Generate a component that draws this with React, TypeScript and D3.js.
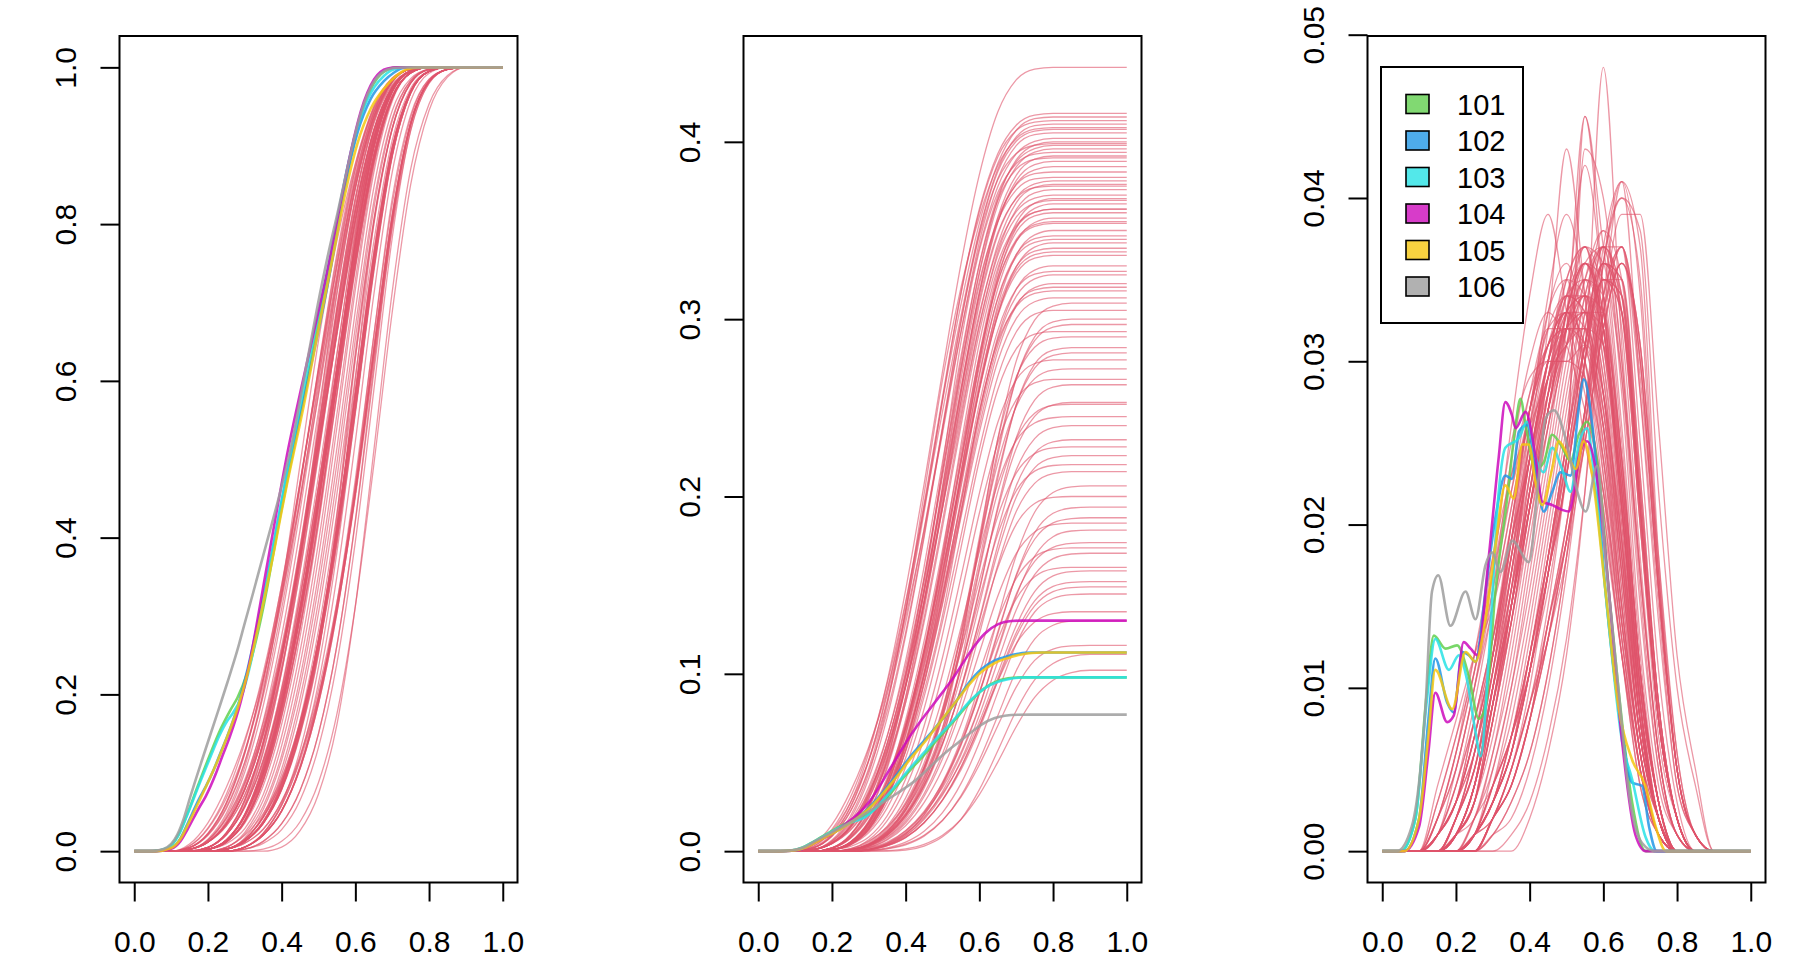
import React, { useEffect, useRef } from "react";
import * as d3 from "d3";

const WIDTH = 1800;
const HEIGHT = 968;
const FONT = "'Liberation Sans', Arial, Helvetica, sans-serif";

// tick labels
const xTicks = [0, 0.2, 0.4, 0.6, 0.8, 1.0];
const cdfTicks = [0, 0.2, 0.4, 0.6, 0.8, 1.0];
const cumTicks = [0, 0.1, 0.2, 0.3, 0.4];
const densTicks = [0, 0.01, 0.02, 0.03, 0.04, 0.05];

// highlighted series
const seriesIds = ["101", "102", "103", "104", "105", "106"];
const seriesColors = ["#61D04F", "#2297E6", "#28E2E5", "#CD0BBC", "#F5C710", "#9E9E9E"];
const seriesTotals = [0.098, 0.112, 0.098, 0.13, 0.112, 0.077];

const seriesDensity: [number, number][][] = [
  // 101
  [[0, 0], [0.05, 0], [0.09, 0.002], [0.12, 0.0095], [0.14, 0.0132], [0.172, 0.0124], [0.203, 0.0126], [0.235, 0.0107], [0.262, 0.0081], [0.28, 0.0088], [0.307, 0.0159], [0.339, 0.0216], [0.362, 0.0261], [0.375, 0.0277], [0.389, 0.0261], [0.416, 0.0234], [0.438, 0.0238], [0.461, 0.0255], [0.484, 0.0249], [0.511, 0.0239], [0.533, 0.0255], [0.556, 0.0263], [0.588, 0.023], [0.615, 0.0159], [0.642, 0.0097], [0.678, 0.003], [0.715, 0], [1, 0]],
  // 102
  [[0, 0], [0.06, 0], [0.1, 0.002], [0.125, 0.008], [0.144, 0.0118], [0.176, 0.0091], [0.194, 0.0085], [0.217, 0.0122], [0.235, 0.012], [0.253, 0.0116], [0.28, 0.0159], [0.307, 0.0204], [0.334, 0.023], [0.352, 0.0228], [0.371, 0.0257], [0.393, 0.0261], [0.416, 0.0234], [0.438, 0.0208], [0.461, 0.022], [0.484, 0.0232], [0.511, 0.023], [0.533, 0.0271], [0.547, 0.0289], [0.57, 0.0261], [0.606, 0.0159], [0.642, 0.0087], [0.678, 0.0042], [0.705, 0.004], [0.724, 0.0015], [0.745, 0], [1, 0]],
  // 103
  [[0, 0], [0.05, 0], [0.09, 0.002], [0.12, 0.009], [0.144, 0.013], [0.181, 0.0111], [0.208, 0.012], [0.23, 0.0105], [0.253, 0.0073], [0.267, 0.0058], [0.289, 0.0118], [0.316, 0.022], [0.334, 0.0247], [0.371, 0.0253], [0.393, 0.0263], [0.416, 0.0241], [0.438, 0.0232], [0.461, 0.0247], [0.488, 0.0234], [0.511, 0.022], [0.533, 0.0249], [0.556, 0.0259], [0.579, 0.022], [0.615, 0.0138], [0.651, 0.0067], [0.678, 0.0044], [0.714, 0.0009], [0.74, 0], [1, 0]],
  // 104
  [[0, 0], [0.06, 0], [0.1, 0.0015], [0.125, 0.006], [0.144, 0.0097], [0.176, 0.0079], [0.194, 0.0083], [0.221, 0.0128], [0.24, 0.0124], [0.258, 0.012], [0.289, 0.018], [0.316, 0.0241], [0.334, 0.0275], [0.352, 0.0267], [0.362, 0.0259], [0.389, 0.0269], [0.416, 0.0241], [0.434, 0.0214], [0.461, 0.0212], [0.488, 0.0209], [0.506, 0.0208], [0.52, 0.022], [0.533, 0.0241], [0.556, 0.0251], [0.588, 0.022], [0.615, 0.0159], [0.651, 0.0067], [0.687, 0.001], [0.715, 0], [1, 0]],
  // 105
  [[0, 0], [0.06, 0], [0.1, 0.002], [0.125, 0.007], [0.144, 0.0111], [0.19, 0.0087], [0.226, 0.0122], [0.253, 0.0116], [0.28, 0.0142], [0.307, 0.0187], [0.334, 0.0224], [0.357, 0.0216], [0.38, 0.0249], [0.398, 0.0249], [0.416, 0.0226], [0.434, 0.0212], [0.461, 0.0234], [0.479, 0.0251], [0.502, 0.0243], [0.525, 0.0234], [0.547, 0.0251], [0.57, 0.023], [0.606, 0.0159], [0.642, 0.0087], [0.678, 0.0056], [0.714, 0.004], [0.742, 0.0015], [0.77, 0], [1, 0]],
  // 106
  [[0, 0], [0.04, 0], [0.08, 0.0015], [0.117, 0.0087], [0.135, 0.0159], [0.152, 0.0169], [0.185, 0.0138], [0.226, 0.0159], [0.253, 0.0142], [0.28, 0.0175], [0.298, 0.0183], [0.321, 0.0171], [0.353, 0.019], [0.398, 0.0177], [0.425, 0.023], [0.443, 0.0265], [0.466, 0.027], [0.497, 0.0253], [0.525, 0.0224], [0.552, 0.0208], [0.583, 0.0236], [0.606, 0.0179], [0.642, 0.0097], [0.669, 0.0036], [0.705, 0.0005], [0.74, 0], [1, 0]],
];

// background series: density (per mille) at these x, zero outside
const backgroundX = [0.15, 0.2, 0.25, 0.3, 0.35, 0.4, 0.45, 0.5, 0.55, 0.6, 0.65, 0.7, 0.75, 0.8, 0.85];
const backgroundDensity = [
  [2, 6, 11, 17, 23, 28, 31, 32, 28, 22, 13, 5, 1, 0, 0],
  [3, 7, 12, 17, 22, 27, 31, 33, 29, 21, 12, 5, 1, 0, 0],
  [2, 5, 10, 16, 24, 30, 33, 31, 27, 22, 14, 6, 1, 0, 0],
  [4, 8, 12, 15, 20, 27, 33, 35, 29, 21, 12, 4, 1, 0, 0],
  [2, 6, 11, 18, 25, 29, 30, 30, 29, 24, 14, 6, 1, 0, 0],
  [1, 5, 10, 17, 26, 34, 39, 33, 25, 20, 12, 5, 1, 0, 0],
  [2, 6, 12, 18, 23, 26, 29, 32, 32, 25, 15, 6, 1, 0, 0],
  [3, 7, 11, 16, 22, 28, 32, 32, 30, 24, 15, 6, 2, 0, 0],
  [1, 3, 7, 12, 19, 25, 30, 33, 32, 27, 17, 7, 2, 0, 0],
  [1, 4, 8, 13, 18, 24, 30, 34, 33, 26, 15, 6, 2, 0, 0],
  [0, 2, 6, 12, 20, 27, 32, 33, 31, 26, 16, 7, 2, 0, 0],
  [1, 3, 7, 12, 18, 25, 32, 43, 34, 23, 13, 5, 1, 0, 0],
  [1, 3, 7, 13, 19, 24, 28, 31, 33, 29, 18, 8, 2, 0, 0],
  [0, 2, 6, 11, 19, 27, 31, 32, 31, 27, 18, 8, 2, 0, 0],
  [1, 3, 8, 13, 19, 24, 29, 33, 34, 28, 17, 7, 2, 0, 0],
  [0, 2, 5, 11, 18, 26, 34, 39, 34, 24, 14, 6, 1, 0, 0],
  [1, 4, 8, 12, 17, 23, 29, 34, 35, 28, 17, 7, 2, 0, 0],
  [1, 3, 7, 12, 19, 24, 30, 32, 32, 28, 19, 8, 2, 0, 0],
  [0, 2, 6, 12, 20, 27, 30, 30, 31, 28, 19, 9, 2, 0, 0],
  [1, 3, 6, 11, 17, 25, 33, 36, 32, 26, 17, 7, 2, 0, 0],
  [0, 1, 4, 9, 15, 22, 28, 32, 35, 32, 22, 10, 3, 0, 0],
  [0, 1, 4, 10, 16, 22, 27, 31, 34, 33, 23, 10, 3, 0, 0],
  [0, 1, 3, 8, 15, 23, 30, 35, 37, 30, 19, 8, 2, 0, 0],
  [0, 2, 5, 10, 15, 21, 27, 32, 36, 33, 21, 9, 2, 0, 0],
  [0, 1, 4, 9, 16, 24, 30, 32, 33, 31, 22, 10, 3, 0, 0],
  [0, 1, 3, 8, 14, 21, 27, 33, 42, 34, 20, 8, 2, 0, 0],
  [0, 1, 4, 10, 16, 21, 26, 31, 35, 34, 24, 11, 3, 0, 0],
  [0, 2, 5, 10, 15, 21, 27, 33, 36, 32, 21, 9, 2, 0, 0],
  [0, 1, 4, 10, 17, 24, 29, 31, 32, 31, 23, 11, 3, 0, 0],
  [0, 1, 3, 9, 15, 22, 29, 34, 36, 31, 21, 9, 2, 0, 0],
  [0, 1, 4, 9, 14, 21, 28, 35, 37, 31, 21, 9, 2, 0, 0],
  [0, 1, 3, 8, 15, 23, 29, 32, 33, 32, 24, 11, 3, 0, 0],
  [0, 1, 4, 10, 15, 21, 27, 33, 36, 32, 22, 10, 3, 0, 0],
  [0, 1, 3, 9, 16, 24, 29, 31, 33, 33, 24, 11, 3, 0, 0],
  [0, 1, 4, 9, 14, 20, 26, 32, 45, 34, 19, 8, 2, 0, 0],
  [0, 1, 3, 9, 15, 22, 29, 33, 34, 32, 23, 10, 3, 0, 0],
  [0, 0, 1, 3, 6, 11, 17, 24, 31, 36, 34, 21, 8, 2, 0],
  [0, 0, 1, 4, 7, 12, 17, 23, 30, 35, 34, 22, 9, 2, 0],
  [0, 0, 1, 3, 6, 11, 18, 25, 32, 36, 33, 20, 8, 2, 0],
  [0, 0, 1, 3, 7, 12, 18, 24, 30, 48, 31, 17, 6, 1, 0],
  [0, 0, 2, 4, 7, 11, 17, 23, 30, 35, 35, 23, 9, 2, 0],
  [0, 0, 1, 3, 6, 12, 18, 25, 31, 35, 33, 21, 8, 2, 0],
  [0, 0, 1, 3, 6, 11, 17, 24, 45, 37, 29, 17, 6, 1, 0],
  [0, 0, 1, 4, 7, 11, 16, 23, 30, 36, 35, 23, 9, 2, 0],
  [0, 0, 1, 3, 6, 11, 18, 25, 32, 36, 33, 20, 8, 2, 0],
  [0, 0, 1, 3, 6, 11, 17, 24, 43, 40, 30, 17, 6, 1, 0],
  [0, 0, 1, 3, 7, 12, 18, 24, 31, 35, 34, 21, 8, 2, 0],
  [0, 0, 1, 4, 7, 11, 17, 23, 30, 36, 35, 22, 9, 2, 0],
  [0, 0, 1, 3, 6, 12, 18, 25, 31, 35, 33, 21, 8, 2, 0],
  [0, 0, 1, 3, 6, 11, 17, 24, 31, 37, 34, 21, 8, 2, 0],
  [0, 0, 0, 2, 4, 8, 13, 19, 26, 33, 37, 30, 16, 5, 1],
  [0, 0, 0, 2, 5, 9, 13, 19, 25, 32, 36, 31, 17, 5, 1],
  [0, 0, 0, 2, 4, 8, 14, 20, 27, 34, 37, 28, 15, 4, 1],
  [0, 0, 1, 2, 5, 9, 13, 18, 25, 32, 36, 31, 18, 6, 1],
  [0, 0, 0, 2, 4, 8, 14, 20, 27, 34, 41, 28, 14, 4, 1],
  [0, 0, 0, 2, 4, 8, 13, 19, 26, 33, 37, 30, 16, 5, 1],
  [0, 0, 1, 2, 5, 9, 14, 19, 25, 32, 36, 31, 17, 5, 1],
  [0, 0, 0, 2, 4, 8, 13, 20, 27, 33, 36, 30, 16, 5, 1],
  [0, 0, 0, 2, 4, 8, 14, 19, 26, 34, 37, 29, 16, 5, 1],
  [0, 0, 0, 1, 3, 6, 11, 18, 27, 37, 41, 34, 16, 5, 1],
  [0, 0, 0, 1, 2, 5, 10, 17, 26, 36, 41, 37, 18, 6, 1],
  [0, 0, 0, 1, 3, 6, 11, 18, 27, 36, 40, 35, 17, 5, 1],
  [0, 0, 0, 0, 0, 2, 6, 12, 22, 36, 40, 38, 22, 10, 4],
  [0, 0, 0, 0, 1, 3, 7, 13, 22, 33, 39, 39, 26, 12, 5],
  [1, 4, 9, 15, 21, 27, 31, 33, 30, 23, 13, 5, 1, 0, 0],
  [2, 5, 10, 15, 21, 27, 32, 34, 30, 22, 12, 4, 1, 0, 0],
  [1, 3, 8, 13, 20, 26, 31, 33, 31, 25, 14, 5, 1, 0, 0],
  [0, 2, 6, 12, 19, 26, 31, 34, 33, 26, 15, 6, 1, 0, 0],
  [1, 3, 7, 12, 18, 24, 30, 35, 34, 27, 16, 6, 1, 0, 0],
  [0, 2, 5, 11, 18, 25, 30, 33, 33, 28, 18, 7, 2, 0, 0],
  [1, 3, 6, 11, 17, 24, 30, 34, 34, 29, 18, 7, 2, 0, 0],
  [0, 1, 4, 10, 17, 24, 29, 32, 34, 30, 20, 8, 2, 0, 0],
  [0, 1, 4, 9, 15, 22, 28, 33, 36, 32, 21, 8, 2, 0, 0],
  [0, 2, 5, 10, 16, 22, 28, 32, 34, 31, 22, 9, 2, 0, 0],
  [0, 1, 3, 8, 14, 21, 28, 34, 37, 32, 21, 9, 2, 0, 0],
  [0, 1, 4, 9, 15, 21, 27, 33, 36, 33, 22, 9, 2, 0, 0],
  [0, 1, 3, 8, 14, 21, 27, 32, 35, 33, 24, 11, 3, 0, 0],
  [0, 1, 3, 7, 13, 20, 27, 33, 37, 34, 23, 10, 2, 0, 0],
  [0, 1, 2, 6, 12, 19, 26, 32, 36, 35, 25, 11, 3, 0, 0],
  [0, 0, 2, 6, 11, 18, 25, 32, 37, 36, 26, 12, 3, 0, 0],
  [0, 0, 2, 5, 10, 17, 24, 31, 36, 37, 28, 13, 4, 1, 0],
  [0, 0, 1, 5, 10, 16, 23, 30, 35, 37, 29, 15, 5, 1, 0],
  [0, 0, 1, 4, 9, 15, 22, 29, 35, 38, 30, 16, 5, 1, 0],
  [0, 0, 1, 4, 8, 14, 21, 28, 34, 37, 32, 18, 6, 1, 0],
  [0, 0, 1, 3, 7, 13, 20, 27, 34, 37, 33, 20, 7, 2, 0],
  [0, 0, 1, 3, 7, 12, 19, 26, 33, 37, 34, 21, 8, 2, 0],
  [0, 0, 0, 2, 5, 10, 17, 25, 33, 38, 35, 22, 9, 2, 0],
  [0, 0, 0, 2, 5, 9, 15, 23, 31, 37, 37, 25, 11, 3, 0],
];

// end level of each background series in the middle panel
const backgroundTotals = [
  0.442, 0.416, 0.414, 0.412, 0.41, 0.408, 0.405, 0.402, 0.4, 0.398, 0.396, 0.394, 0.392, 0.389, 0.386, 0.38,
  0.378, 0.376, 0.373, 0.37, 0.368, 0.365, 0.362, 0.36, 0.357, 0.354, 0.35, 0.347, 0.343, 0.34, 0.336, 0.33,
  0.325, 0.32, 0.316, 0.312, 0.309, 0.3, 0.297, 0.29, 0.284, 0.281, 0.272, 0.263, 0.253, 0.252, 0.24, 0.232,
  0.223, 0.214, 0.206, 0.194, 0.188, 0.181, 0.174, 0.168, 0.158, 0.152, 0.149, 0.145, 0.13, 0.116, 0.111, 0.102,
  0.407, 0.399, 0.391, 0.383, 0.375, 0.367, 0.362, 0.355, 0.345, 0.338, 0.327, 0.318, 0.305, 0.293, 0.277, 0.266,
  0.245, 0.228, 0.218, 0.2, 0.185, 0.171, 0.16, 0.135,
];

type Pt = [number, number];

// running integral, scaled to end at 1
function cumulative(pts: Pt[]): Pt[] {
  let acc = 0;
  const out: Pt[] = [[pts[0][0], 0]];
  for (let i = 1; i < pts.length; i++) {
    acc += ((pts[i][0] - pts[i - 1][0]) * (pts[i][1] + pts[i - 1][1])) / 2;
    out.push([pts[i][0], acc]);
  }
  return out.map(([x, v]) => [x, v / acc] as Pt);
}

export default function App() {
  const svgRef = useRef<SVGSVGElement>(null);

  useEffect(() => {
    if (!svgRef.current) return;
    const svg = d3.select(svgRef.current);
    svg.selectAll("*").remove();

    const top = 36;
    const bottom = 882.5;
    const boxW = 398;
    const lefts = [119.5, 743.5, 1367.5];

    const bgDensity: Pt[][] = backgroundDensity.map(row => [
      [0, 0],
      [0.1, 0],
      ...backgroundX.map((x, j) => [x, row[j] / 1000] as Pt),
      [0.9, 0],
      [1, 0],
    ]);
    const bgCdf = bgDensity.map(cumulative);
    const bgCum = bgCdf.map((c, i) => c.map(([x, v]) => [x, v * backgroundTotals[i]] as Pt));

    const hlCdf = seriesDensity.map(cumulative);
    const hlCum = hlCdf.map((c, i) => c.map(([x, v]) => [x, v * seriesTotals[i]] as Pt));

    const densMax = d3.max(bgDensity.flat(), d => d[1]) ?? 0.05;

    const panels = [
      { bg: bgCdf, hl: hlCdf, yMax: 1, ticks: cdfTicks, fmt: d3.format(".1f") },
      { bg: bgCum, hl: hlCum, yMax: d3.max(backgroundTotals) ?? 0.44, ticks: cumTicks, fmt: d3.format(".1f") },
      { bg: bgDensity, hl: seriesDensity, yMax: densMax, ticks: densTicks, fmt: d3.format(".2f") },
    ];

    panels.forEach((p, k) => {
      const left = lefts[k];
      const x = d3.scaleLinear().domain([-0.04, 1.04]).range([left, left + boxW]);
      const y = d3.scaleLinear().domain([-0.04 * p.yMax, 1.04 * p.yMax]).range([bottom, top]);

      const line = d3.line<Pt>()
        .x(d => x(d[0]))
        .y(d => y(d[1]))
        .curve(d3.curveMonotoneX);

      const g = svg.append("g");

      g.append("g")
        .selectAll("path")
        .data(p.bg)
        .join("path")
        .attr("d", line)
        .attr("fill", "none")
        .attr("stroke", "#DF536B")
        .attr("stroke-opacity", 0.6)
        .attr("stroke-width", 1.3);

      g.append("g")
        .selectAll("path")
        .data(p.hl)
        .join("path")
        .attr("d", line)
        .attr("fill", "none")
        .attr("stroke", (_, i) => seriesColors[i])
        .attr("stroke-opacity", 0.85)
        .attr("stroke-width", 2.6)
        .attr("stroke-linejoin", "round");

      // box
      g.append("rect")
        .attr("x", left)
        .attr("y", top)
        .attr("width", boxW)
        .attr("height", bottom - top)
        .attr("fill", "none")
        .attr("stroke", "#000")
        .attr("stroke-width", 2);

      // x axis
      const gx = g.append("g")
        .attr("transform", `translate(0,${bottom})`)
        .call(d3.axisBottom(x).tickValues(xTicks).tickSize(19).tickFormat(d3.format(".1f")));
      gx.select(".domain").remove();
      gx.selectAll("line").attr("stroke", "#000").attr("stroke-width", 2);
      gx.selectAll("text")
        .attr("y", 69.2)
        .attr("dy", null)
        .attr("fill", "#000")
        .style("font-size", "30px")
        .style("font-family", FONT);

      // y axis
      const gy = g.append("g")
        .attr("transform", `translate(${left},0)`)
        .call(d3.axisLeft(y).tickValues(p.ticks).tickSize(19).tickFormat(p.fmt as any));
      gy.select(".domain").remove();
      gy.selectAll("line").attr("stroke", "#000").attr("stroke-width", 2);
      gy.selectAll("text")
        .attr("x", 0)
        .attr("dy", null)
        .attr("text-anchor", "middle")
        .attr("transform", "translate(-43.3,0) rotate(-90)")
        .attr("fill", "#000")
        .style("font-size", "30px")
        .style("font-family", FONT);
    });

    // legend
    const rowY = d3.scalePoint<string>().domain(seriesIds).range([104, 286.5]);
    const legend = svg.append("g");
    legend.append("rect")
      .attr("x", 1381)
      .attr("y", 67)
      .attr("width", 142)
      .attr("height", 256)
      .attr("fill", "#fff")
      .attr("stroke", "#000")
      .attr("stroke-width", 2);
    const rows = legend.selectAll("g.row")
      .data(seriesIds)
      .join("g")
      .attr("class", "row")
      .attr("transform", d => `translate(0,${rowY(d)})`);
    rows.append("rect")
      .attr("x", 1406)
      .attr("y", -9.5)
      .attr("width", 23)
      .attr("height", 19)
      .attr("fill", (_, i) => seriesColors[i])
      .attr("fill-opacity", 0.8)
      .attr("stroke", "#000")
      .attr("stroke-width", 1.6);
    rows.append("text")
      .attr("x", 1457)
      .attr("y", 10.5)
      .attr("fill", "#000")
      .style("font-size", "29px")
      .style("font-family", FONT)
      .text(d => d);
  }, []);

  return (
    <svg
      ref={svgRef}
      width={WIDTH}
      height={HEIGHT}
      style={{ position: "absolute", left: 0, top: 0, background: "#fff", display: "block" }}
    />
  );
}
